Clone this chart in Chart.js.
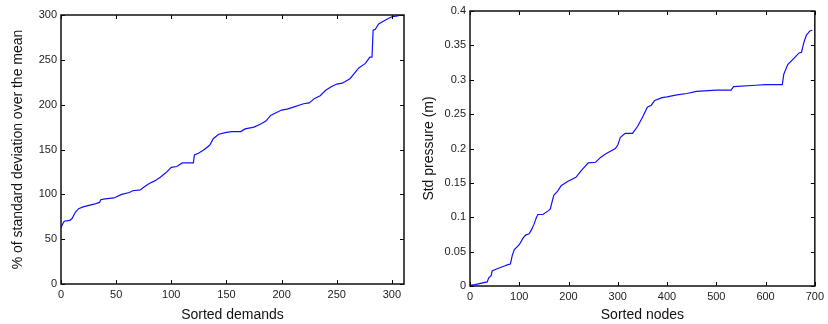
<!DOCTYPE html>
<html>
<head>
<meta charset="utf-8">
<script src="https://cdn.jsdelivr.net/npm/chart.js@4"></script>
<style>
  html, body { margin: 0; padding: 0; background: #fff; }
  .row { display: flex; width: 828px; height: 324px; }
  canvas { display: block; }
</style>
</head>
<body>
<div class="row">
  <canvas id="demandChart" width="414" height="324"></canvas>
  <canvas id="pressureChart" width="414" height="324"></canvas>
</div>
<script>
// left panel: % of standard deviation over the mean, sorted demands
const demandX = [0, 2, 3, 8, 10, 13, 16, 20, 30, 35, 36, 40, 48, 55, 62, 65, 72, 75, 80, 85, 90, 95, 100, 105, 110, 120, 121, 125, 130, 135, 138, 143, 150, 155, 163, 167, 175, 182, 186, 190, 195, 200, 205, 210, 220, 225, 230, 235, 240, 245, 250, 255, 262, 266, 270, 276, 280, 282, 283, 285, 288, 295, 300, 305, 311];
const demandY = [63, 68, 70, 71, 73, 80, 84, 86, 89, 91, 94, 95, 96, 100, 102, 104, 105, 108, 112, 115, 119, 124, 130, 131, 135, 135, 144, 146, 150, 155, 162, 167, 169, 170, 170, 173, 175, 179, 182, 188, 191, 194, 195, 197, 201, 202, 207, 210, 216, 220, 223, 224, 229, 235, 241, 246, 253, 253, 283, 284, 290, 295, 298, 299, 301];
const demandXTicks = [0, 50, 100, 150, 200, 250, 300];
const demandYTicks = [0, 50, 100, 150, 200, 250, 300];

// right panel: std pressure, sorted nodes
const nodeX = [0, 10, 35, 38, 43, 45, 55, 70, 77, 82, 86, 90, 100, 108, 113, 120, 125, 130, 135, 138, 148, 160, 163, 170, 178, 185, 198, 215, 225, 240, 255, 265, 275, 295, 300, 305, 315, 330, 340, 350, 360, 368, 375, 390, 400, 420, 440, 460, 500, 530, 535, 580, 600, 634, 637, 645, 660, 668, 673, 678, 683, 690, 695];
const pressureY = [0.001, 0.002, 0.006, 0.012, 0.015, 0.022, 0.025, 0.029, 0.031, 0.032, 0.045, 0.053, 0.06, 0.07, 0.074, 0.076, 0.082, 0.09, 0.1, 0.104, 0.104, 0.11, 0.112, 0.132, 0.138, 0.146, 0.152, 0.158, 0.167, 0.179, 0.18, 0.187, 0.192, 0.2, 0.205, 0.216, 0.222, 0.222, 0.232, 0.245, 0.26, 0.263, 0.27, 0.274, 0.275, 0.278, 0.28, 0.283, 0.285, 0.285, 0.29, 0.292, 0.293, 0.293, 0.308, 0.322, 0.333, 0.339, 0.34, 0.355, 0.365, 0.371, 0.372];
const nodeXTicks = [0, 100, 200, 300, 400, 500, 600, 700];
const pressureYTicks = [0, 0.05, 0.1, 0.15, 0.2, 0.25, 0.3, 0.35, 0.4];

const FONT = 'Liberation Sans, Arial, Helvetica, sans-serif';

// box frame and inward tick marks on all four sides
const boxTicks = {
  id: 'boxTicks',
  afterDatasetsDraw(chart) {
    const { ctx, chartArea: a, scales: { x, y } } = chart;
    const len = 4;
    ctx.save();
    ctx.strokeStyle = '#000';
    ctx.lineWidth = 1;
    ctx.beginPath();
    x.ticks.forEach(t => {
      const px = Math.round(x.getPixelForValue(t.value)) + 0.5;
      ctx.moveTo(px, a.bottom); ctx.lineTo(px, a.bottom - len);
      ctx.moveTo(px, a.top); ctx.lineTo(px, a.top + len);
    });
    y.ticks.forEach(t => {
      const py = Math.round(y.getPixelForValue(t.value)) + 0.5;
      ctx.moveTo(a.left, py); ctx.lineTo(a.left + len, py);
      ctx.moveTo(a.right, py); ctx.lineTo(a.right - len, py);
    });
    ctx.stroke();
    ctx.lineWidth = 1.5;
    ctx.strokeStyle = '#111';
    ctx.strokeRect(a.left, a.top, a.width, a.height);
    ctx.restore();
  },
};

function makeChart(id, xs, ys, opts) {
  return new Chart(document.getElementById(id), {
    type: 'line',
    data: {
      datasets: [{
        data: xs.map((x, i) => ({ x, y: ys[i] })),
        borderColor: '#1010ff',
        borderWidth: 1.2,
        pointRadius: 0,
        tension: 0,
        fill: false,
      }],
    },
    options: {
      responsive: false,
      animation: false,
      events: [],
      layout: { padding: opts.padding },
      plugins: { legend: { display: false }, tooltip: { enabled: false } },
      scales: {
        x: {
          type: 'linear',
          min: opts.xMin, max: opts.xMax,
          grid: { display: false, drawTicks: false },
          border: { display: false },
          afterBuildTicks: scale => { scale.ticks = opts.xTicks.map(value => ({ value })); },
          afterFit: scale => { scale.height = opts.xHeight; },
          ticks: { color: '#222', font: { family: FONT, size: 11 }, padding: 4, maxRotation: 0, autoSkip: false },
          title: { display: true, text: opts.xTitle, color: '#111', font: { family: FONT, size: 14 }, padding: { top: 0, bottom: 0 } },
        },
        y: {
          type: 'linear',
          min: opts.yMin, max: opts.yMax,
          grid: { display: false, drawTicks: false },
          border: { display: false },
          afterBuildTicks: scale => { scale.ticks = opts.yTicks.map(value => ({ value })); },
          afterFit: scale => { scale.width = opts.yWidth; },
          ticks: {
            color: '#222', font: { family: FONT, size: 11 }, padding: 4, autoSkip: false,
            callback: v => String(Number(Number(v).toFixed(2))),
          },
          title: { display: true, text: opts.yTitle, color: '#111', font: { family: FONT, size: 14 }, padding: { top: opts.yTitlePad, bottom: 0 } },
        },
      },
    },
    plugins: [boxTicks],
  });
}

makeChart('demandChart', demandX, demandY, {
  padding: { left: 0, top: 15, right: 10, bottom: 0 },
  xMin: 0, xMax: 311, yMin: 0, yMax: 300,
  xTicks: demandXTicks, yTicks: demandYTicks,
  xHeight: 40, yWidth: 61, yTitlePad: 10,
  xTitle: 'Sorted demands',
  yTitle: '% of standard deviation over the mean',
});

makeChart('pressureChart', nodeX, pressureY, {
  padding: { left: 0, top: 11, right: 8, bottom: 0 },
  xMin: 0, xMax: 700, yMin: 0, yMax: 0.4,
  xTicks: nodeXTicks, yTicks: pressureYTicks,
  xHeight: 38, yWidth: 56, yTitlePad: 7,
  xTitle: 'Sorted nodes',
  yTitle: 'Std pressure (m)',
});
</script>
</body>
</html>
